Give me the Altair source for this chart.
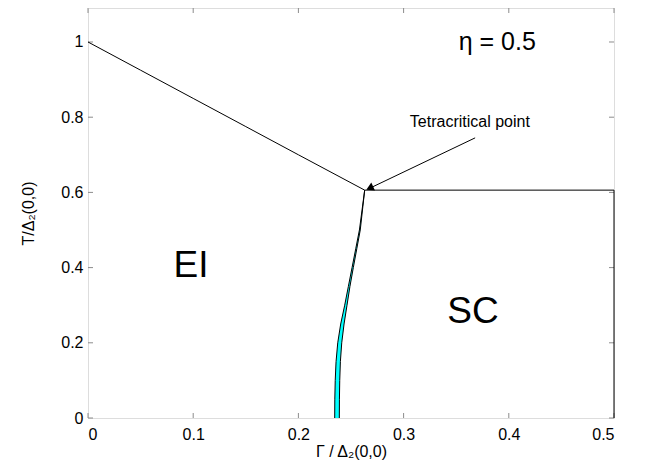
import altair as alt
import pandas as pd

# Upper EI boundary (from T=1 at Gamma=0 to tetracritical point)
upper_gamma = [0.0, 0.05, 0.10, 0.15, 0.20, 0.263]
upper_T = [1.0, 0.925, 0.850, 0.775, 0.700, 0.606]

# SC boundary (horizontal then down the right edge)
sc_gamma = [0.263, 0.5, 0.5]
sc_T = [0.606, 0.606, 0.0]

# Near-vertical boundaries (coexistence sliver)
strip_T = [0.0, 0.05, 0.10, 0.15, 0.20, 0.25, 0.30, 0.35, 0.40, 0.45, 0.50, 0.606]
strip_left = [0.2345, 0.2346, 0.2350, 0.2358, 0.2374, 0.2402, 0.2440, 0.2475, 0.2510, 0.2545, 0.2580, 0.2630]
strip_right = [0.2389, 0.2390, 0.2393, 0.2399, 0.2412, 0.2434, 0.2462, 0.2490, 0.2522, 0.2555, 0.2588, 0.2630]

x_ticks = [0, 0.1, 0.2, 0.3, 0.4, 0.5]
y_ticks = [0, 0.2, 0.4, 0.6, 0.8, 1.0]

labels_text = ["EI", "SC"]
labels_gamma = [0.098, 0.366]
labels_T = [0.403, 0.283]

eta_text = ["η = 0.5"]
eta_gamma = [0.389]
eta_T = [1.0]

note_text = ["Tetracritical point"]
note_gamma = [0.363]
note_T = [0.787]

arrow_gamma = [0.368, 0.2685]
arrow_T = [0.745, 0.612]
head_gamma = [0.2678]
head_T = [0.6115]

FONT = "Liberation Sans"
FRAME = "#8c8c8c"
W, H = 526, 410

xs = alt.Scale(domain=[0, 0.5], nice=False, zero=False)
ys = alt.Scale(domain=[0, 1.0904], nice=False, zero=False)

xaxis = alt.Axis(values=x_ticks, format="~g", domain=False, ticks=False, grid=False,
                 labelFontSize=16, labelFont=FONT, labelColor="black", labelPadding=8,
                 title="Γ / Δ₂(0,0)", titleFont=FONT, titleFontSize=16,
                 titleFontWeight="normal", titleColor="black", titlePadding=1)
yaxis = alt.Axis(values=y_ticks, format="~g", domain=False, ticks=False, grid=False,
                 labelFontSize=16, labelFont=FONT, labelColor="black", labelPadding=5,
                 title="T/Δ₂(0,0)", titleFont=FONT, titleFontSize=16,
                 titleFontWeight="normal", titleColor="black", titlePadding=24)

strip = pd.DataFrame({"T": strip_T, "left": strip_left, "right": strip_right})
upper = pd.DataFrame({"g": upper_gamma, "T": upper_T})
sc = pd.DataFrame({"g": sc_gamma, "T": sc_T, "o": list(range(len(sc_T)))})

fill = alt.Chart(strip).mark_area(color="#00ffff", orient="horizontal").encode(
    y=alt.Y("T:Q", scale=ys, axis=yaxis),
    x=alt.X("left:Q", scale=xs, axis=xaxis),
    x2="right:Q",
)
left_line = alt.Chart(strip).mark_line(color="black", strokeWidth=1).encode(
    x=alt.X("left:Q", scale=xs), y=alt.Y("T:Q", scale=ys), order="T:Q")
right_line = alt.Chart(strip).mark_line(color="black", strokeWidth=1).encode(
    x=alt.X("right:Q", scale=xs), y=alt.Y("T:Q", scale=ys), order="T:Q")
upper_line = alt.Chart(upper).mark_line(color="black", strokeWidth=1).encode(
    x=alt.X("g:Q", scale=xs), y=alt.Y("T:Q", scale=ys), order="g:Q")
sc_line = alt.Chart(sc).mark_line(color="black", strokeWidth=1).encode(
    x=alt.X("g:Q", scale=xs), y=alt.Y("T:Q", scale=ys), order="o:Q")

arrow = alt.Chart(pd.DataFrame({"g": arrow_gamma, "T": arrow_T})).mark_line(
    color="black", strokeWidth=1).encode(
    x=alt.X("g:Q", scale=xs), y=alt.Y("T:Q", scale=ys))
head = alt.Chart(pd.DataFrame({"g": head_gamma, "T": head_T})).mark_point(
    shape="triangle-up", filled=True, color="black", size=75, angle=245, opacity=1).encode(
    x=alt.X("g:Q", scale=xs), y=alt.Y("T:Q", scale=ys))

regions = alt.Chart(pd.DataFrame({"t": labels_text, "g": labels_gamma, "T": labels_T})).mark_text(
    font=FONT, fontSize=37, color="black", align="center", baseline="middle").encode(
    x=alt.X("g:Q", scale=xs), y=alt.Y("T:Q", scale=ys), text="t:N")
eta = alt.Chart(pd.DataFrame({"t": eta_text, "g": eta_gamma, "T": eta_T})).mark_text(
    font=FONT, fontSize=25, color="black", align="center", baseline="middle").encode(
    x=alt.X("g:Q", scale=xs), y=alt.Y("T:Q", scale=ys), text="t:N")
note = alt.Chart(pd.DataFrame({"t": note_text, "g": note_gamma, "T": note_T})).mark_text(
    font=FONT, fontSize=16, color="black", align="center", baseline="middle").encode(
    x=alt.X("g:Q", scale=xs), y=alt.Y("T:Q", scale=ys), text="t:N")

xt = pd.DataFrame({"v": x_ticks})
yt = pd.DataFrame({"v": y_ticks})
tick_bottom = alt.Chart(xt).mark_rule(color=FRAME, strokeWidth=1).encode(
    x=alt.X("v:Q", scale=xs), y=alt.value(H), y2=alt.value(H - 5))
tick_top = alt.Chart(xt).mark_rule(color=FRAME, strokeWidth=1).encode(
    x=alt.X("v:Q", scale=xs), y=alt.value(0), y2=alt.value(5))
tick_left = alt.Chart(yt).mark_rule(color=FRAME, strokeWidth=1).encode(
    y=alt.Y("v:Q", scale=ys), x=alt.value(0), x2=alt.value(5))
tick_right = alt.Chart(yt).mark_rule(color=FRAME, strokeWidth=1).encode(
    y=alt.Y("v:Q", scale=ys), x=alt.value(W), x2=alt.value(W - 5))

chart = alt.layer(
    fill, tick_bottom, tick_top, tick_left, tick_right,
    left_line, right_line, upper_line, sc_line, arrow, head, regions, eta, note
).properties(
    width=W, height=H,
    autosize=alt.AutoSizeParams(type="none"),
    padding={"left": 80, "top": 0, "right": 20, "bottom": 50},
).configure_view(stroke=FRAME, strokeWidth=1).configure(background="white")

chart.save("out.html", embed_options={"renderer": "svg", "actions": False})
